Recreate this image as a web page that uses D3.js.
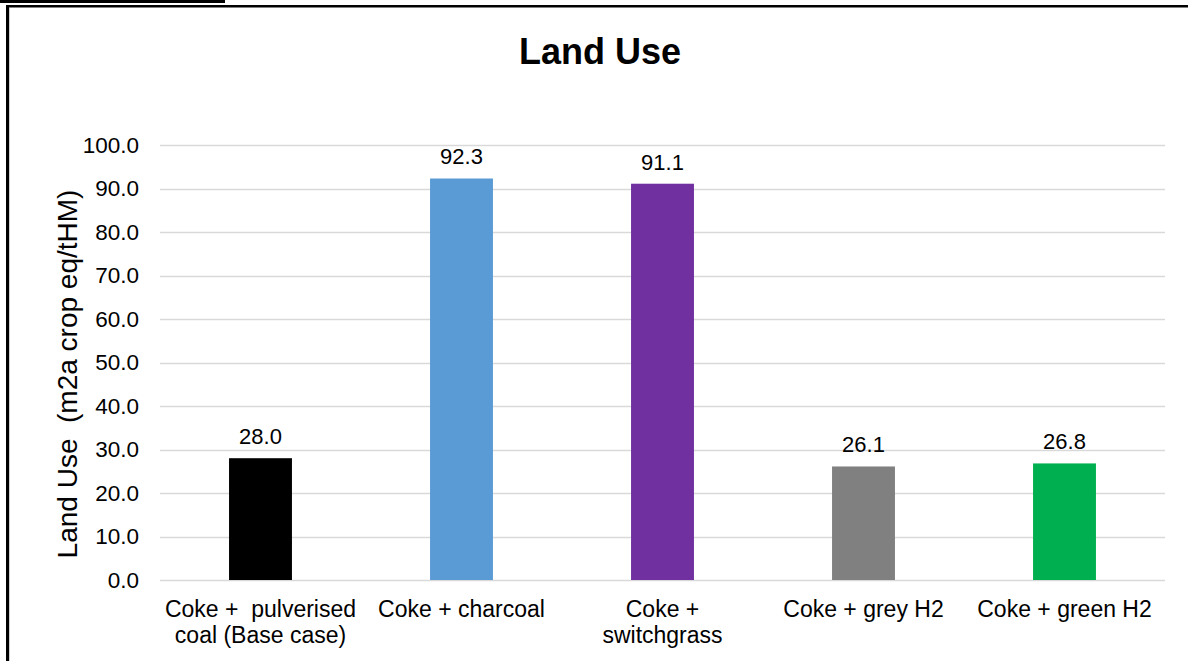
<!DOCTYPE html>
<html>
<head>
<meta charset="utf-8">
<script src="https://cdn.jsdelivr.net/npm/d3@7"></script>
<style>
  html, body { margin: 0; padding: 0; background: #fff; }
  svg { display: block; font-family: "Liberation Sans", Arial, sans-serif; }
</style>
</head>
<body>
<svg id="chart" width="1188" height="661"></svg>
<script>
// Land use per tonne of hot metal for each injection option
const categories = [
  ["Coke +  pulverised", "coal (Base case)"],
  ["Coke + charcoal"],
  ["Coke +", "switchgrass"],
  ["Coke + grey H2"],
  ["Coke + green H2"]
];
const values = [28.0, 92.3, 91.1, 26.1, 26.8];
const barColors = ["#000000", "#5B9BD5", "#7030A0", "#808080", "#00B050"];
const yTicks = [0, 10, 20, 30, 40, 50, 60, 70, 80, 90, 100];

const svg = d3.select("#chart");
const W = 1188, H = 661;
const plot = { left: 160, right: 1165, top: 145, bottom: 580 };

// Outer frame
svg.append("rect").attr("x", 0).attr("y", 0).attr("width", 225).attr("height", 3).attr("fill", "#000");
svg.append("rect").attr("x", 6).attr("y", 5).attr("width", W - 6).attr("height", 2.5).attr("fill", "#000");
svg.append("rect").attr("x", 6).attr("y", 5).attr("width", 3).attr("height", H - 5).attr("fill", "#000");
svg.append("line").attr("x1", 9.5).attr("x2", 9.5).attr("y1", 8).attr("y2", H).attr("stroke", "#d0d0d0").attr("stroke-width", 1);

const x = d3.scaleBand()
  .domain(d3.range(values.length))
  .range([plot.left, plot.right])
  .paddingInner(0.687)
  .paddingOuter(0.3435);

const y = d3.scaleLinear().domain([0, 100]).range([plot.bottom, plot.top]);

// Gridlines
svg.append("g")
  .selectAll("line")
  .data(yTicks)
  .join("line")
  .attr("x1", plot.left).attr("x2", plot.right)
  .attr("y1", d => Math.round(y(d)) + 0.5).attr("y2", d => Math.round(y(d)) + 0.5)
  .attr("stroke", "#d9d9d9").attr("stroke-width", 1.3);

// Y tick labels
const yAxis = d3.axisLeft(y).tickValues(yTicks).tickFormat(d3.format(".1f")).tickSize(0).tickPadding(21);
const gy = svg.append("g").attr("transform", `translate(${plot.left},0)`).call(yAxis);
gy.select(".domain").remove();
gy.selectAll("text").attr("font-size", 22.5).attr("fill", "#000").attr("font-family", "Liberation Sans, Arial, sans-serif");

// Bars
svg.append("g")
  .selectAll("rect")
  .data(values)
  .join("rect")
  .attr("x", (d, i) => x(i))
  .attr("width", x.bandwidth())
  .attr("y", d => y(d))
  .attr("height", d => y(0) - y(d))
  .attr("fill", (d, i) => barColors[i]);

// Value labels
svg.append("g")
  .selectAll("text")
  .data(values)
  .join("text")
  .attr("x", (d, i) => x(i) + x.bandwidth() / 2)
  .attr("y", d => y(d) - 14)
  .attr("text-anchor", "middle")
  .attr("font-size", 22)
  .attr("fill", "#000")
  .text(d => d3.format(".1f")(d));

// Category labels
const cat = svg.append("g")
  .selectAll("text")
  .data(categories)
  .join("text")
  .attr("text-anchor", "middle")
  .attr("font-size", 23)
  .attr("fill", "#000");
cat.each(function (lines, i) {
  d3.select(this).selectAll("tspan")
    .data(lines)
    .join("tspan")
    .attr("x", x(i) + x.bandwidth() / 2)
    .attr("y", (l, j) => 617 + j * 26)
    .style("white-space", "pre")
    .text(l => l);
});

// Title
svg.append("text")
  .attr("x", 600).attr("y", 64)
  .attr("text-anchor", "middle")
  .attr("font-size", 36).attr("font-weight", "bold")
  .attr("fill", "#000")
  .text("Land Use");

// Y axis title
svg.append("text")
  .attr("transform", `translate(77, 374) rotate(-90)`)
  .attr("text-anchor", "middle")
  .attr("font-size", 28)
  .attr("fill", "#000")
  .style("white-space", "pre")
  .text("Land Use  (m2a crop eq/tHM)");
</script>
</body>
</html>
